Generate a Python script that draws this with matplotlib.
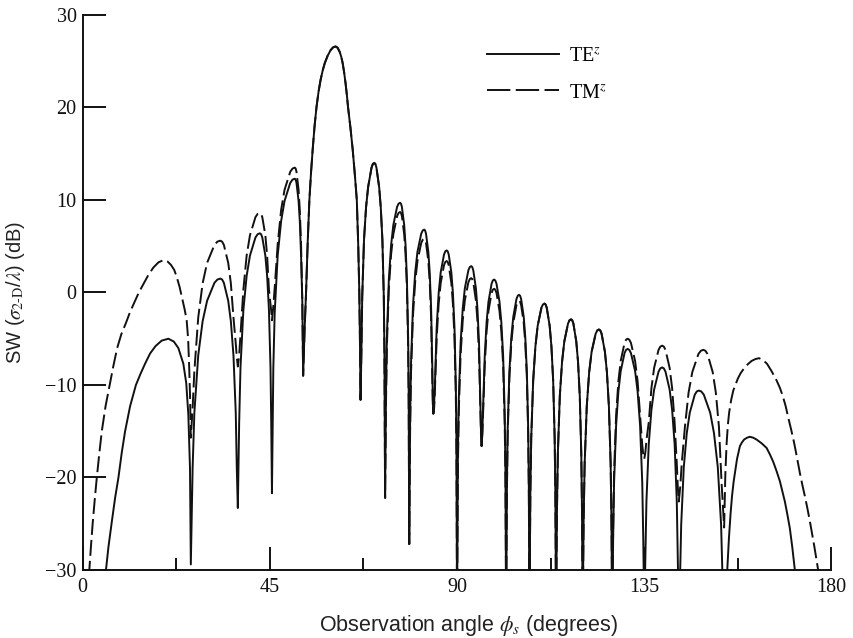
import matplotlib
matplotlib.use("Agg")
import matplotlib.pyplot as plt
from matplotlib.lines import Line2D

plt.rcParams['font.family'] = ['Liberation Serif', 'DejaVu Serif']
plt.rcParams['mathtext.fontset'] = 'stix'

# ---------------- data (degrees, dB) ----------------
# left-most lobe (differs between TE and TM)
te_left_deg = [5.0, 5.6, 6.2, 7.0, 7.8, 8.6, 9.4, 10.2, 11.4, 12.8, 13.9, 15.0, 16.2, 17.5, 19.0, 20.6,
               21.9, 23.0, 24.2, 24.9, 25.4, 25.8, 26.0]
te_left_db = [-33, -30, -27.5, -24.8, -22.2, -20, -17.3, -15, -12.3, -10, -8.8, -7.7, -6.6, -5.8, -5.2, -5.0,
              -5.3, -6.0, -7.7, -9.8, -13.2, -19, -29.4]
tm_left_deg = [1.2, 1.6, 2.0, 2.4, 2.9, 3.4, 4.0, 4.6, 5.5, 6.5, 7.4, 8.3, 9.3, 10.4, 11.4, 12.5, 13.5, 14.6,
               15.8, 17.0, 18.2, 19.4, 20.4, 21.2, 22.0, 22.6, 23.3, 24.0, 24.5, 25.0, 25.35, 25.6, 25.8, 26.0]
tm_left_db = [-33, -30, -27.4, -25, -22.4, -20, -17.4, -15, -12.3, -10, -7.9, -6.0, -4.5, -3.3, -2.1, -1.0, 0.0, 0.9,
              1.9, 2.7, 3.25, 3.5, 3.35, 3.0, 2.45, 1.7, 0.6, -0.8, -1.8, -3.0, -5.0, -8.0, -11.0, -15.7]

# middle lobes (common angle samples for both polarizations)
mid_deg = [
    26.43, 26.85, 27.78, 28.84, 29.91, 31.68, 32.39, 33.1, 33.52, 33.94, 34.99, 35.62, 36.25, 36.8, 37.05, 37.3,
    37.62, 37.94, 38.63, 39.42, 40.22, 41.54, 42.07, 42.6, 42.89, 43.18, 43.91, 44.34, 44.78, 45.15, 45.33, 45.5,
    45.83, 46.16, 46.88, 47.7, 48.53, 49.9, 50.45, 51.0, 51.2, 51.4, 51.9, 52.2, 52.5, 52.8, 53.0,
    53.35, 53.7, 54.1, 54.5, 54.9, 55.3, 55.75, 56.2, 56.7, 57.2, 57.7, 58.2, 58.9, 59.6, 60.2, 60.8,
    61.3, 61.8, 62.15, 62.5, 62.85, 63.2, 63.5, 63.8, 64.35, 64.9, 65.4, 65.9, 66.25, 66.5, 66.65, 66.8,
    67.0, 67.2, 67.63, 68.12, 68.62, 69.44, 69.77, 70.1, 70.36, 70.62, 71.27, 71.66, 72.05, 72.39, 72.54, 72.7,
    72.92, 73.13, 73.6, 74.14, 74.68, 75.58, 75.94, 76.3, 76.52, 76.74, 77.29, 77.62, 77.95, 78.24, 78.37, 78.5,
    78.72, 78.93, 79.4, 79.94, 80.48, 81.38, 81.74, 82.1, 82.32, 82.54, 83.09, 83.42, 83.75, 84.04, 84.17, 84.3,
    84.49, 84.68, 85.1, 85.58, 86.06, 86.86, 87.18, 87.5, 87.75, 88.0, 88.63, 89.0, 89.38, 89.7, 89.85, 90.0,
    90.2, 90.41, 90.85, 91.36, 91.87, 92.72, 93.06, 93.4, 93.65, 93.9, 94.53, 94.9, 95.28, 95.6, 95.75, 95.9,
    96.08, 96.26, 96.65, 97.1, 97.55, 98.3, 98.6, 98.9, 99.19, 99.48, 100.2, 100.64, 101.08, 101.45, 101.63, 101.8,
    101.99, 102.17, 102.58, 103.04, 103.51, 104.28, 104.59, 104.9, 105.15, 105.4, 106.03, 106.4, 106.78, 107.1, 107.25, 107.4,
    107.62, 107.83, 108.3, 108.84, 109.38, 110.28, 110.64, 111.0, 111.28, 111.56, 112.26, 112.68, 113.1, 113.46, 113.63, 113.8,
    114.02, 114.23, 114.7, 115.24, 115.78, 116.68, 117.04, 117.4, 117.68, 117.96, 118.66, 119.08, 119.5, 119.86, 120.03, 120.2,
    120.43, 120.67, 121.18, 121.76, 122.35, 123.32, 123.71, 124.1, 124.42, 124.74, 125.54, 126.02, 126.5, 126.92, 127.11, 127.3,
    127.52, 127.74, 128.23, 128.78, 129.34, 130.26, 130.63, 131.0, 131.4, 131.8, 132.8, 133.4, 134.0, 134.52, 134.76, 135.0,
    135.26, 135.52, 136.08, 136.72, 137.37, 138.44, 138.87, 139.3, 139.7, 140.1, 141.1, 141.7, 142.3, 142.82, 143.06, 143.3,
]
te_mid_db = [
    -19.0, -13.0, -6.8, -3.1, -0.9, 1.05, 1.4, 1.5, 1.4, 1.05, -0.9, -3.1, -6.8, -13.0, -19.0, -23.3,
    -14.1, -8.1, -1.9, 1.8, 4.0, 5.95, 6.3, 6.4, 6.3, 5.95, 4.0, 1.8, -1.9, -8.1, -14.1, -21.7,
    -8.2, -2.2, 4.0, 7.7, 9.9, 11.85, 12.2, 12.3, 12.2, 11.85, 9.9, 7.7, 4.0, -1.0, -9.0,
    -4.0, 0.0, 5.5, 10.0, 13.0, 15.5, 18.0, 20.0, 21.7, 23.0, 24.0, 24.8, 25.6, 26.2, 26.5, 26.6,
    26.45, 26.0, 25.5, 24.8, 23.8, 22.6, 21.4, 20.0, 17.9, 15.5, 12.9, 10.0, 5.0, 0.0, -5.0, -11.6,
    -6.5, -0.5, 5.7, 9.2, 11.4, 13.5, 13.9, 14.0, 13.9, 13.5, 11.4, 9.2, 5.7, -0.5, -6.5, -22.2,
    -10.8, -4.8, 1.4, 5.1, 7.3, 9.25, 9.6, 9.7, 9.6, 9.25, 7.3, 5.1, 1.4, -4.8, -10.8, -27.2,
    -13.7, -7.7, -1.5, 2.2, 4.4, 6.35, 6.7, 6.8, 6.7, 6.35, 4.4, 2.2, -1.5, -7.7, -11.5, -13.1,
    -12.0, -9.95, -3.75, -0.05, 2.15, 4.1, 4.45, 4.55, 4.45, 4.1, 2.15, -0.05, -3.75, -9.95, -15.95, -35,
    -17.65, -11.65, -5.45, -1.75, 0.45, 2.4, 2.75, 2.85, 2.75, 2.4, 0.45, -1.75, -5.45, -11.65, -15.0, -16.6,
    -15.0, -12.5, -6.9, -3.2, -1.0, 0.95, 1.3, 1.4, 1.3, 0.95, -1.0, -3.2, -6.9, -13.1, -19.1, -35,
    -20.75, -14.75, -8.55, -4.85, -2.65, -0.7, -0.35, -0.25, -0.35, -0.7, -2.65, -4.85, -8.55, -14.75, -20.75, -35,
    -21.7, -15.7, -9.5, -5.8, -3.6, -1.65, -1.3, -1.2, -1.3, -1.65, -3.6, -5.8, -9.5, -15.7, -21.7, -35,
    -23.4, -17.4, -11.2, -7.5, -5.3, -3.35, -3.0, -2.9, -3.0, -3.35, -5.3, -7.5, -11.2, -17.4, -23.4, -35,
    -24.5, -18.5, -12.3, -8.6, -6.4, -4.45, -4.1, -4.0, -4.1, -4.45, -6.4, -8.6, -12.3, -18.5, -24.5, -35,
    -26.6, -20.6, -14.4, -10.7, -8.5, -6.55, -6.2, -6.1, -6.2, -6.55, -8.5, -10.7, -14.4, -20.6, -26.6, -35,
    -28.6, -22.6, -16.4, -12.7, -10.5, -8.55, -8.2, -8.1, -8.2, -8.55, -10.5, -12.7, -16.4, -22.6, -28.6, -35,
]
tm_mid_db = [
    -12.5, -8.5, -2.7, 1.0, 3.2, 5.15, 5.5, 5.6, 5.5, 5.15, 3.2, 1.0, -2.7, -5.5, -7.0, -8.0,
    -6.8, -4.5, 0.3, 4.0, 6.2, 8.15, 8.5, 8.6, 8.5, 8.15, 6.2, 4.0, 0.3, -1.2, -2.0, -3.0,
    -1.5, 0.5, 5.2, 8.9, 11.1, 13.05, 13.4, 13.5, 13.4, 13.05, 11.1, 8.9, 5.2, -1.0, -9.0,
    -4.0, 0.0, 5.5, 10.0, 13.0, 15.5, 18.0, 20.0, 21.7, 23.0, 24.0, 24.8, 25.6, 26.2, 26.5, 26.6,
    26.45, 26.0, 25.5, 24.8, 23.8, 22.6, 21.4, 20.0, 17.9, 15.5, 12.9, 10.0, 5.0, 0.0, -5.0, -11.6,
    -6.5, -0.5, 5.7, 9.2, 11.4, 13.5, 13.9, 14.0, 13.9, 13.5, 11.4, 9.2, 5.7, -0.5, -6.5, -22.2,
    -11.8, -5.8, 0.4, 4.1, 6.3, 8.25, 8.6, 8.7, 8.6, 8.25, 6.3, 4.1, 0.4, -5.8, -11.8, -27.2,
    -14.7, -8.7, -2.5, 1.2, 3.4, 5.35, 5.7, 5.8, 5.7, 5.35, 3.4, 1.2, -2.5, -8.7, -12.0, -13.1,
    -12.5, -10.5, -4.9, -1.2, 1.0, 2.95, 3.3, 3.4, 3.3, 2.95, 1.0, -1.2, -4.9, -11.1, -17.1, -35,
    -18.95, -12.95, -6.75, -3.05, -0.85, 1.1, 1.45, 1.55, 1.45, 1.1, -0.85, -3.05, -6.75, -12.5, -15.3, -16.6,
    -15.3, -13.0, -7.9, -4.2, -2.0, -0.05, 0.3, 0.4, 0.3, -0.05, -2.0, -4.2, -7.9, -14.1, -20.1, -35,
    -21.4, -15.4, -9.2, -5.5, -3.3, -1.35, -1.0, -0.9, -1.0, -1.35, -3.3, -5.5, -9.2, -15.4, -21.4, -35,
    -21.7, -15.7, -9.5, -5.8, -3.6, -1.65, -1.3, -1.2, -1.3, -1.65, -3.6, -5.8, -9.5, -15.7, -21.7, -35,
    -23.4, -17.4, -11.2, -7.5, -5.3, -3.35, -3.0, -2.9, -3.0, -3.35, -5.3, -7.5, -11.2, -17.4, -23.4, -35,
    -24.5, -18.5, -12.3, -8.6, -6.4, -4.45, -4.1, -4.0, -4.1, -4.45, -6.4, -8.6, -12.3, -18.5, -24.5, -35,
    -25.5, -19.5, -13.3, -9.6, -7.4, -5.45, -5.1, -5.0, -5.1, -5.45, -7.4, -9.6, -13.3, -16.5, -17.5, -18.0,
    -17.3, -16.0, -14.05, -10.35, -8.15, -6.2, -5.85, -5.75, -5.85, -6.2, -8.15, -10.35, -14.05, -18.5, -21.0, -22.6,
]

# right-most lobes (differ between TE and TM)
te_right_deg = [143.59, 143.88, 144.5, 145.22, 145.94, 147.14, 147.62, 148.1, 148.71, 149.32, 150.85, 151.76,
                152.68, 153.47, 153.83, 154.2,
                154.57, 154.94, 155.35, 155.75, 156.1, 156.5, 157.3, 158.0, 158.5, 159.0, 159.7, 160.4, 161.2,
                162.0, 163.2, 164.4, 165.2, 166.0, 166.8, 167.6, 168.2, 168.8, 169.4, 170.0, 170.6, 171.2, 172.0]
te_right_db = [-31.1, -25.1, -18.9, -15.2, -13.0, -11.05, -10.7, -10.6, -10.7, -11.05, -13.0, -15.2,
               -18.9, -25.1, -31.1, -35,
               -36, -30.1, -26.6, -23.9, -22.0, -20.4, -18.0, -16.6, -16.2, -15.9, -15.7, -15.6, -15.7,
               -15.9, -16.3, -16.8, -17.5, -18.3, -19.3, -20.4, -21.5, -22.6, -24.0, -25.5, -27.6, -30, -33]
tm_right_deg = [143.65, 144.01, 144.78, 145.66, 146.55, 148.02, 148.61, 149.2, 149.7, 150.2, 151.45, 152.2,
                152.95, 153.6, 153.9, 154.2,
                154.35, 154.5, 154.8, 155.1, 155.4, 155.9, 156.4, 157.5, 158.2, 159.0, 159.9, 160.8, 161.7,
                162.6, 163.5, 164.5, 165.6, 166.8, 167.6, 168.3, 169.0, 169.6, 170.3, 171.0, 171.7, 172.4,
                173.0, 173.6, 174.2, 174.8, 175.9, 176.8, 177.4]
tm_right_db = [-21.0, -18.5, -14.5, -10.8, -8.6, -6.65, -6.3, -6.2, -6.3, -6.65, -8.6, -10.8,
               -14.5, -20.7, -23.0, -25.4,
               -22.5, -19.5, -16.3, -14.3, -13.0, -11.6, -10.6, -9.3, -8.7, -8.2, -7.75, -7.4, -7.2,
               -7.1, -7.3, -7.7, -8.5, -9.5, -10.3, -11.2, -12.3, -13.5, -14.8, -16.2, -17.8, -19.5,
               -20.8, -22.0, -23.3, -24.7, -27.5, -30, -33]

te_deg = te_left_deg + mid_deg + te_right_deg
te_db = te_left_db + te_mid_db + te_right_db
tm_deg = tm_left_deg + mid_deg + tm_right_deg
tm_db = tm_left_db + tm_mid_db + tm_right_db

x_ticks = [0, 45, 90, 135, 180]
x_minor = [22.5, 67.5, 112.5, 157.5]
y_ticks = [-30, -20, -10, 0, 10, 20, 30]
series_labels = ['TE$^z$', 'TM$^z$']

# ---------------- figure ----------------
fig = plt.figure(figsize=(8.54, 6.38), dpi=100)
ax = fig.add_axes([0.0968, 0.1066, 0.8768, 0.8699])

lw = 1.4
ink = '#111111'
ax.plot(te_deg, te_db, color=ink, lw=lw, solid_joinstyle='round')
ax.plot(tm_deg, tm_db, color=ink, lw=lw, dashes=(8.2, 2.6))

ax.set_xlim(0, 180)
ax.set_ylim(-30, 30)
ax.set_xticks(x_ticks)
ax.set_xticks(x_minor, minor=True)
ax.set_yticks(y_ticks)

for s in ['top', 'right']:
    ax.spines[s].set_visible(False)
for s in ['left', 'bottom']:
    ax.spines[s].set_linewidth(1.4)
    ax.spines[s].set_color(ink)

ax.tick_params(axis='both', which='major', direction='in', length=16.5, width=1.4,
               labelsize=14.5, colors=ink)
ax.tick_params(axis='y', which='major', pad=4.3)
ax.tick_params(axis='x', which='major', pad=6)
ax.tick_params(axis='x', which='minor', direction='in', length=8.6, width=1.4, colors=ink)

ax.set_xlabel(r'Observation angle $\phi_s$ (degrees)', fontfamily='Liberation Sans',
              fontsize=15.5, color='#222222')
ax.set_ylabel(r'SW ($\sigma_{2\text{-}\mathrm{D}}$/$\lambda$) (dB)', fontfamily='Liberation Sans',
              fontsize=14.5, color='#222222')
ax.xaxis.set_label_coords(0.516, -0.078)
ax.yaxis.set_label_coords(-0.0744, 0.5)

handles = [Line2D([], [], color=ink, lw=lw),
           Line2D([], [], color=ink, lw=lw, dashes=(12, 2.8))]
ax.legend(handles, series_labels, loc='upper left', bbox_to_anchor=(0.5395, 0.943),
          frameon=False, fontsize=14.5, handlelength=3.6, handletextpad=0.5,
          labelspacing=0.88, borderpad=0, borderaxespad=0)

fig.savefig('out.png', dpi=100)
